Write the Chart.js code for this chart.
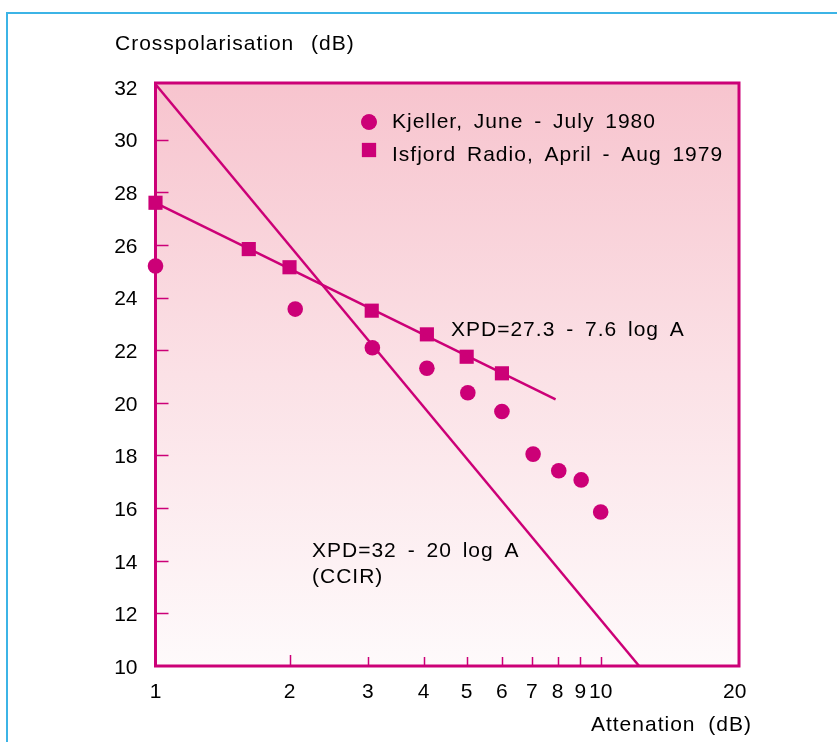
<!DOCTYPE html>
<html>
<head>
<meta charset="utf-8">
<script src="https://cdn.jsdelivr.net/npm/chart.js@4/dist/chart.umd.min.js"></script>
<style>
  html, body { margin: 0; padding: 0; background: #ffffff; overflow: hidden; }
  #wrap { position: relative; width: 837px; height: 742px; }
  #frame { position: absolute; left: 6px; top: 12px; width: 900px; height: 800px;
           border-top: 2px solid #3cb4e6; border-left: 2px solid #3cb4e6; }
  canvas { position: absolute; left: 0; top: 0; }
</style>
</head>
<body>
<div id="wrap">
  <div id="frame"></div>
  <canvas id="c" width="837" height="742"></canvas>
</div>
<script>
// ---- data ----
const kjellerX = [1, 2.06, 3.07, 4.07, 5.03, 6.0, 7.05, 8.05, 9.04, 10.0];
const kjellerY = [25.20, 23.56, 22.09, 21.31, 20.38, 19.67, 18.05, 17.42, 17.07, 15.85];
const isfjordX = [1, 1.62, 2.0, 3.06, 4.07, 5.0, 6.0];
const isfjordY = [27.60, 25.84, 25.15, 23.50, 22.60, 21.75, 21.12];
const fitIsfjordX = [1, 7.92];
const fitIsfjordY = [27.60, 20.13];
const ccirX = [1, 12.2];
const ccirY = [32.1, 10];
const xTickValues = [1, 2, 3, 4, 5, 6, 7, 8, 9, 10, 20];
const xInnerTicks = [2, 3, 4, 5, 6, 7, 8, 9, 10];
const yTickValues = [10, 12, 14, 16, 18, 20, 22, 24, 26, 28, 30, 32];
const yInnerTicks = [12, 14, 16, 18, 20, 22, 24, 26, 28, 30];
const legendLabels = ['Kjeller, June - July 1980', 'Isfjord Radio, April - Aug 1979'];
const yTitle = 'Crosspolarisation (dB)';
const xTitle = 'Attenation (dB)';
const fitLabel = 'XPD=27.3 - 7.6 log A';
const ccirLabel1 = 'XPD=32 - 20 log A';
const ccirLabel2 = '(CCIR)';

// ---- styling ----
const MAG = '#cc0077';
const FONT = '"Liberation Sans", Arial, Helvetica, sans-serif';

const toPts = (xs, ys) => xs.map((x, i) => ({ x: x, y: ys[i] }));

const decorPlugin = {
  id: 'decor',
  beforeDatasetsDraw(chart) {
    const { ctx, chartArea: a } = chart;
    ctx.save();
    const g = ctx.createLinearGradient(0, a.top, 0, a.bottom);
    g.addColorStop(0, '#f7c4ce');
    g.addColorStop(0.5, '#fbe1e6');
    g.addColorStop(1, '#fefafb');
    ctx.fillStyle = g;
    ctx.fillRect(a.left, a.top, a.right - a.left, a.bottom - a.top);
    // inner tick marks
    const xs = chart.scales.x, ys = chart.scales.y;
    ctx.strokeStyle = MAG;
    ctx.lineWidth = 1.5;
    ctx.beginPath();
    xInnerTicks.forEach(v => {
      const px = Math.round(xs.getPixelForValue(v)) + 0.5;
      ctx.moveTo(px, a.bottom);
      ctx.lineTo(px, a.bottom - (v === 2 ? 11 : 9));
    });
    yInnerTicks.forEach(v => {
      const py = Math.round(ys.getPixelForValue(v)) + 0.5;
      ctx.moveTo(a.left, py);
      ctx.lineTo(a.left + 13, py);
    });
    ctx.stroke();
    // frame
    ctx.lineWidth = 3;
    ctx.strokeRect(a.left, a.top, a.right - a.left, a.bottom - a.top);
    ctx.restore();
  },
  afterDatasetsDraw(chart) {
    const { ctx } = chart;
    ctx.save();
    ctx.fillStyle = '#000000';
    ctx.font = '21px ' + FONT;
    ctx.textBaseline = 'alphabetic';
    ctx.textAlign = 'left';
    ctx.letterSpacing = '1px';
    ctx.wordSpacing = '4px';
    ctx.fillText(legendLabels[0], 392, 128);
    ctx.fillText(legendLabels[1], 392, 161);
    ctx.fillText(fitLabel, 451, 336);
    ctx.fillText(ccirLabel1, 312, 557);
    ctx.fillText(ccirLabel2, 312, 583);
    ctx.wordSpacing = '10px';
    ctx.fillText(yTitle, 115, 50);
    ctx.wordSpacing = '6px';
    ctx.textAlign = 'right';
    ctx.fillText(xTitle, 752, 731);
    // legend markers
    ctx.fillStyle = MAG;
    Chart.helpers.drawPoint(ctx, { pointStyle: 'circle', radius: 7.8, rotation: 0, borderWidth: 0 }, 369, 122);
    ctx.fill();
    Chart.helpers.drawPoint(ctx, { pointStyle: 'rect', radius: 10, rotation: 0, borderWidth: 0 }, 369, 150);
    ctx.fill();
    ctx.restore();
  }
};

new Chart(document.getElementById('c'), {
  type: 'scatter',
  data: {
    datasets: [
      { type: 'line', data: toPts(ccirX, ccirY), borderColor: MAG, borderWidth: 2.5,
        pointRadius: 0, fill: false, tension: 0, clip: false },
      { type: 'line', data: toPts(fitIsfjordX, fitIsfjordY), borderColor: MAG, borderWidth: 2.5,
        pointRadius: 0, fill: false, tension: 0, clip: false },
      { label: legendLabels[0], data: toPts(kjellerX, kjellerY), pointStyle: 'circle',
        pointRadius: 7.8, pointHoverRadius: 7.8, backgroundColor: MAG, borderWidth: 0, clip: false },
      { label: legendLabels[1], data: toPts(isfjordX, isfjordY), pointStyle: 'rect',
        pointRadius: 10, pointHoverRadius: 10, backgroundColor: MAG, borderWidth: 0, clip: false }
    ]
  },
  options: {
    responsive: false,
    animation: false,
    events: [],
    layout: { padding: { top: 83, right: 98, left: 0, bottom: 0 } },
    plugins: { legend: { display: false }, tooltip: { enabled: false } },
    scales: {
      x: {
        type: 'logarithmic', min: 1, max: 20.45,
        grid: { display: false, drawTicks: false },
        border: { display: false },
        afterBuildTicks: s => { s.ticks = xTickValues.map(v => ({ value: v })); },
        afterFit: s => { s.height = 76; },
        ticks: { autoSkip: false, maxRotation: 0, padding: 14, color: '#000000',
                 font: { family: FONT, size: 21 },
                 callback: v => String(v) }
      },
      y: {
        type: 'linear', min: 10, max: 32.15,
        grid: { display: false, drawTicks: false },
        border: { display: false },
        afterBuildTicks: s => { s.ticks = yTickValues.map(v => ({ value: v })); },
        afterFit: s => { s.width = 155.5; },
        ticks: { padding: 18, labelOffset: 2, color: '#000000', font: { family: FONT, size: 21 },
                 callback: v => String(v) }
      }
    }
  },
  plugins: [decorPlugin]
});
</script>
</body>
</html>
